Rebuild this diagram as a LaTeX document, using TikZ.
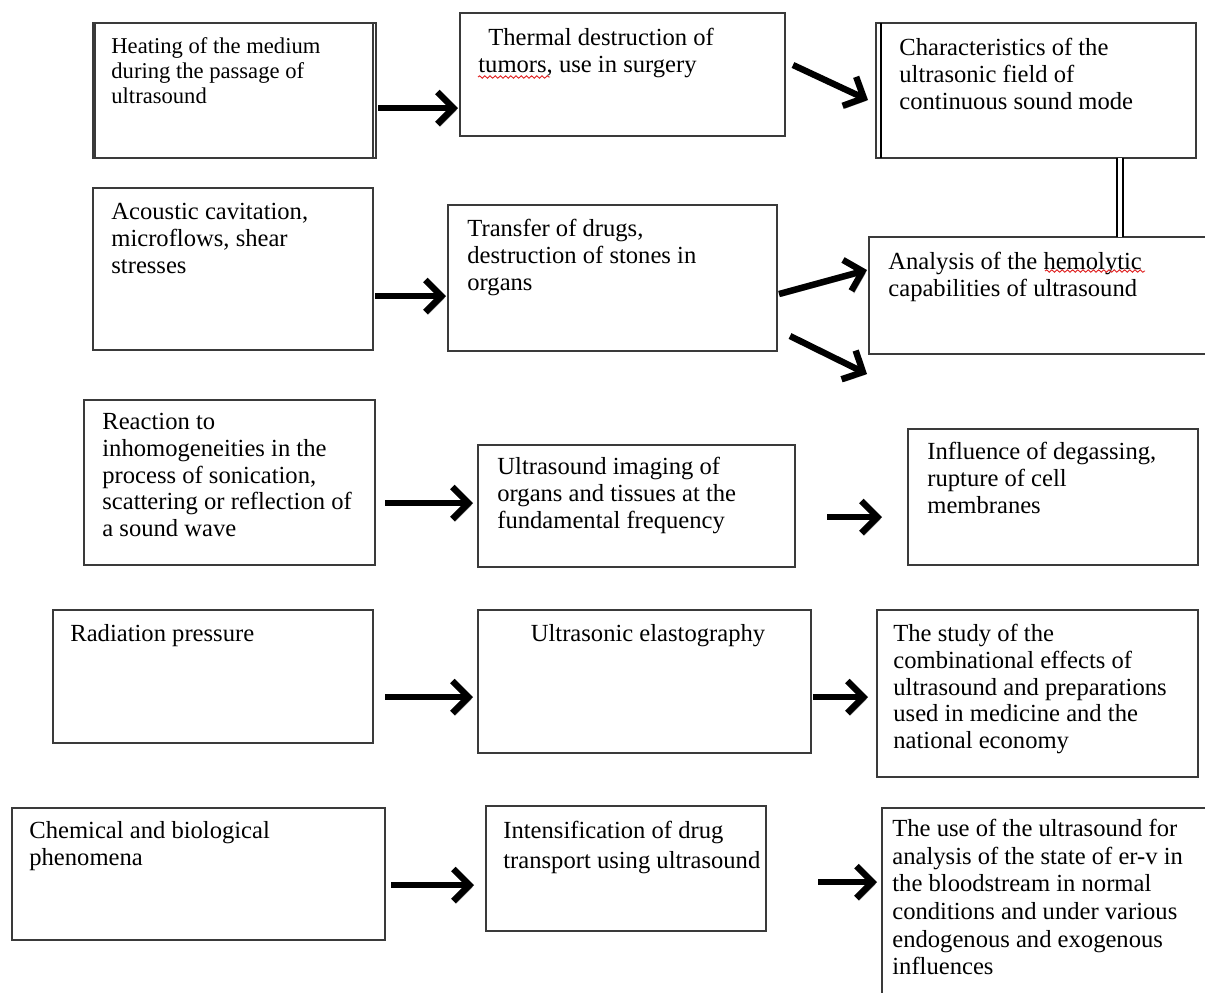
\documentclass[tikz,border=0pt]{standalone}
\usepackage{fontspec}
\setmainfont{Liberation Serif}
\usetikzlibrary{arrows.meta,calc,decorations.pathmorphing}
\definecolor{boxgray}{HTML}{3A3A3A}
\definecolor{shadowgray}{HTML}{A0A0A0}
\definecolor{spellred}{HTML}{E02020}
\tikzset{
  box/.style={draw=boxgray, line width=0.7pt, anchor=north west, inner sep=0pt, outer sep=0pt},
  txt/.style={anchor=north west, inner sep=0pt, align=left, font=\fontsize{12.3}{13.35}\selectfont},
  smalltxt/.style={txt, font=\fontsize{11.3}{12.35}\selectfont},
  arr/.style={line width=3.2pt, -{Straight Barb[length=8pt,width=16pt]},
    preaction={draw=shadowgray, transform canvas={shift={(1.2pt,-1.2pt)}}}},
  dbl/.style={double=white, double distance=2.2pt, line width=1.1pt, draw=black},
  wavy/.style={draw=spellred, line width=0.45pt, decorate, decoration={snake, amplitude=0.6pt, segment length=2.6pt}},
}
\newcommand{\mybox}[5]{\node[box, minimum width={(#4-#2)*0.5pt}, minimum height={(#5-#3)*0.5pt}] (#1) at (#2,#3) {};}
\begin{document}
\begin{tikzpicture}[x=0.5pt, y=-0.5pt]
\useasboundingbox (0,0) rectangle (1205,992);
\clip (0,0) rectangle (1205,992);
\fill[white] (0,0) rectangle (1205,992);

% boxes
\mybox{heat}{93}{23}{376}{158}
\mybox{therm}{460}{13}{785}{136}
\mybox{char}{876}{23}{1196}{158}
\mybox{acou}{93}{188}{373}{350}
\mybox{trans}{448}{205}{777}{351}
\mybox{anal}{869}{237}{1215}{354}
\mybox{react}{84}{400}{375}{565}
\mybox{imag}{478}{445}{795}{567}
\mybox{infl}{908}{429}{1198}{565}
\mybox{rad}{53}{610}{373}{743}
\mybox{elast}{478}{610}{811}{753}
\mybox{study}{877}{610}{1198}{777}
\mybox{chem}{12}{808}{385}{940}
\mybox{intens}{486}{806}{766}{931}
\mybox{use}{882}{808}{1215}{1010}

% doubled edges
\draw[boxgray, line width=0.7pt] ($(heat.north west)+(2,0)$) -- ($(heat.south west)+(2,0)$);
\draw[boxgray, line width=0.7pt] ($(heat.north east)+(-3,0)$) -- ($(heat.south east)+(-3,0)$);
\draw[black, line width=0.9pt] ($(char.north west)+(5,0)$) -- ($(char.south west)+(5,0)$);

% texts
\node[smalltxt] (heatT) at (111,37.5) {Heating of the medium\\during the passage of\\ultrasound};
\node[txt] (thermT) at (478,28) {\hspace*{5pt}Thermal destruction of\\tumors, use in surgery};
\node[txt] (charT) at (899,38) {Characteristics of the\\ultrasonic field of\\continuous sound mode};
\node[txt] (acouT) at (111,203) {Acoustic cavitation,\\microflows, shear\\stresses};
\node[txt] (transT) at (467,219) {Transfer of drugs,\\destruction of stones in\\organs};
\node[txt] (analT) at (888,252) {Analysis of the hemolytic\\capabilities of ultrasound};
\node[txt] (reactT) at (102,413) {Reaction to\\inhomogeneities in the\\process of sonication,\\scattering or reflection of\\a sound wave};
\node[txt] (imagT) at (497,457) {Ultrasound imaging of\\organs and tissues at the\\fundamental frequency};
\node[txt] (inflT) at (927,442) {Influence of degassing,\\rupture of cell\\membranes};
\node[txt] (radT) at (70,624) {Radiation pressure};
\node[txt, anchor=north] (elastT) at (648,624) {Ultrasonic elastography};
\node[txt] (studyT) at (893,624) {The study of the\\combinational effects of\\ultrasound and preparations\\used in medicine and the\\national economy};
\node[txt] (chemT) at (29,821) {Chemical and biological\\phenomena};
\node[txt, font=\fontsize{12.3}{15}\selectfont] (intT) at (503,821) {Intensification of drug\\transport using ultrasound};
\node[txt, font=\fontsize{12.3}{13.8}\selectfont] (useT) at (892,819) {The use of the ultrasound for\\analysis of the state of er-v in\\the bloodstream in normal\\conditions and under various\\endogenous and exogenous\\influences};

% spell-check marks
\draw[wavy] (478,77) -- (550,77);
\draw[wavy] (1045,271) -- (1145,271);

% connectors
\coordinate (free) at (867,374);
\draw[arr] ($(heat.north east)+(2,85)$) -- ($(therm.north west)+(-2,95)$);
\draw[arr] ($(therm.north east)+(8,52)$) -- ($(char.north west)+(-8,77)$);
\draw[dbl] ($(char.south west)+(244,0)$) -- ($(anal.north west)+(251,0)$);
\draw[arr] ($(acou.north east)+(2,108)$) -- ($(trans.north west)+(-2,91)$);
\draw[arr] ($(trans.north east)+(2,89)$) -- ($(anal.north west)+(-2,33)$);
\draw[arr] ($(trans.north east)+(13,131)$) -- (free);
\draw[arr] ($(react.north east)+(10,103)$) -- ($(imag.north west)+(-5,58)$);
\draw[arr] ($(imag.north east)+(32,72)$) -- ($(infl.north west)+(-26,88)$);
\draw[arr] ($(rad.north east)+(12,87)$) -- ($(elast.north west)+(-5,87)$);
\draw[arr] ($(elast.north east)+(2,87)$) -- ($(study.north west)+(-9,87)$);
\draw[arr] ($(chem.north east)+(6,77)$) -- ($(intens.north west)+(-12,79)$);
\draw[arr] ($(intens.north east)+(52,76)$) -- ($(use.north west)+(-5,74)$);
\end{tikzpicture}
\end{document}
